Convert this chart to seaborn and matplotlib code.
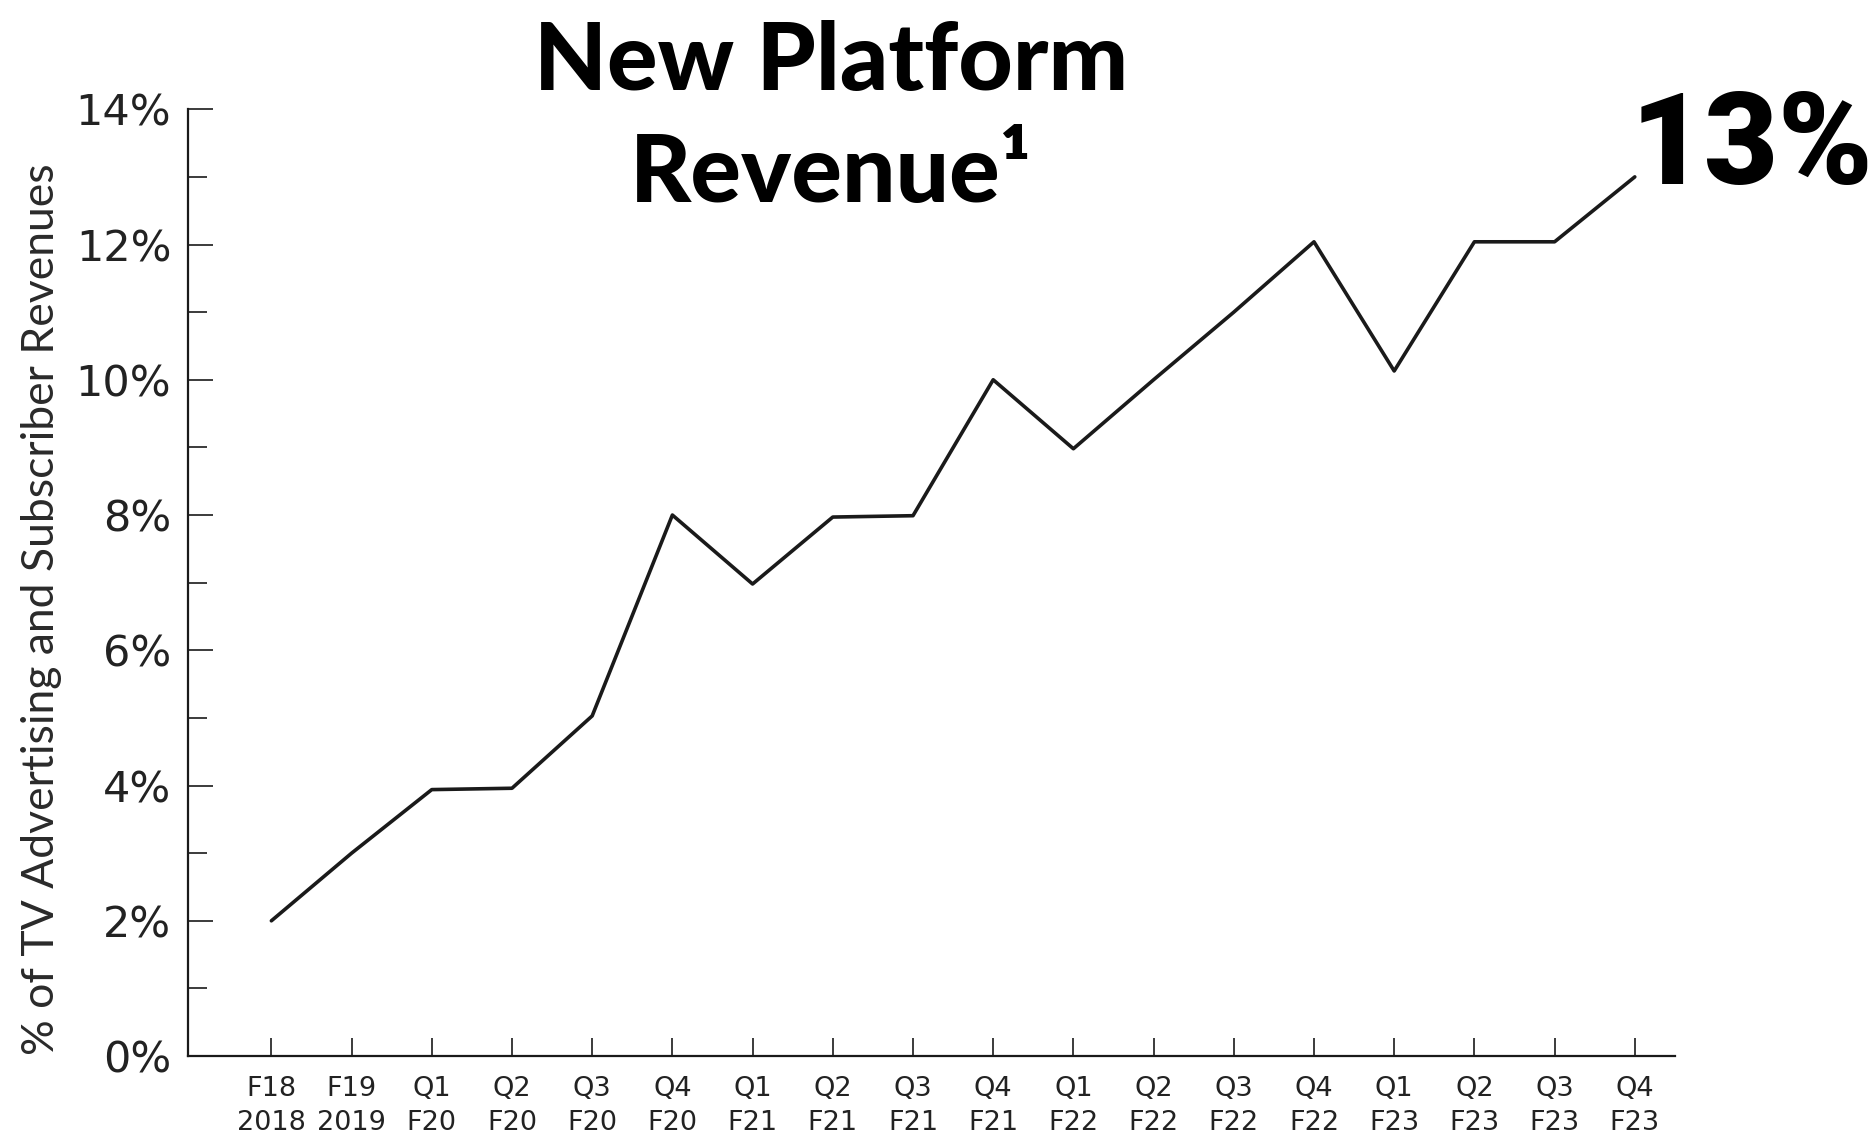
import matplotlib
matplotlib.use("Agg")
import matplotlib.pyplot as plt
from matplotlib.ticker import MultipleLocator, FuncFormatter
import seaborn as sns
import pandas as pd

quarters = ["F18\n2018", "F19\n2019",
            "Q1\nF20", "Q2\nF20", "Q3\nF20", "Q4\nF20",
            "Q1\nF21", "Q2\nF21", "Q3\nF21", "Q4\nF21",
            "Q1\nF22", "Q2\nF22", "Q3\nF22", "Q4\nF22",
            "Q1\nF23", "Q2\nF23", "Q3\nF23", "Q4\nF23"]
share = [2.0, 3.0, 3.94, 3.96, 5.03, 8.0, 6.98, 7.97, 7.99, 10.0,
         8.98, 10.0, 11.0, 12.04, 10.13, 12.04, 12.04, 13.0]
title_text = "New Platform\nRevenue\u00b9"
callout = "13%"
ylabel = "% of TV Advertising and Subscriber Revenues"

df = pd.DataFrame({"quarter": quarters, "share": share})

sns.set_theme(style="white")
plt.rcParams["font.family"] = ["DejaVu Sans"]

fig = plt.figure(figsize=(18.76, 11.38), dpi=100)
ax = fig.add_axes([0.1002, 0.072, 0.7926, 0.832])

sns.lineplot(data=df, x="quarter", y="share", ax=ax, color="#1a1a1a",
             linewidth=2.6, sort=False)

ax.set_xlim(-1.04, 17.5)
ax.set_ylim(0, 14)
ax.yaxis.set_major_locator(MultipleLocator(2))
ax.yaxis.set_minor_locator(MultipleLocator(1))
ax.yaxis.set_major_formatter(FuncFormatter(lambda v, p: f"{int(v)}%"))

for s in ["top", "right"]:
    ax.spines[s].set_visible(False)
for s in ["left", "bottom"]:
    ax.spines[s].set_linewidth(1.6)
    ax.spines[s].set_color("#1a1a1a")

ax.tick_params(axis="y", which="major", direction="in", length=18, width=1.2,
               color="#1a1a1a", labelsize=31, labelcolor="#222222", pad=12, left=True)
ax.tick_params(axis="y", which="minor", direction="in", length=14, width=1.2,
               color="#1a1a1a", left=True)
ax.tick_params(axis="x", which="major", direction="in", length=13, width=1.2,
               color="#1a1a1a", labelsize=19.5, labelcolor="#222222", pad=14, bottom=True)
for lab in ax.get_xticklabels():
    lab.set_linespacing(1.4)

ax.set_xlabel("")
ax.set_ylabel(ylabel, fontsize=32, color="#2a2a2a", family=["Lato", "DejaVu Sans"],
              fontweight="normal")
ax.yaxis.set_label_coords(-0.085, 0.472)

fig.text(0.443, 0.982, title_text, ha="center", va="top", fontsize=68,
         fontweight="black", family=["Lato", "DejaVu Sans"], color="black",
         linespacing=1.36)

ax.annotate(callout, xy=(17, 13), xytext=(-3, -5), textcoords="offset points",
            ha="left", va="baseline", fontsize=92, fontweight="black",
            family=["Roboto", "DejaVu Sans"], color="black", annotation_clip=False)

fig.savefig("out.png", dpi=100)
